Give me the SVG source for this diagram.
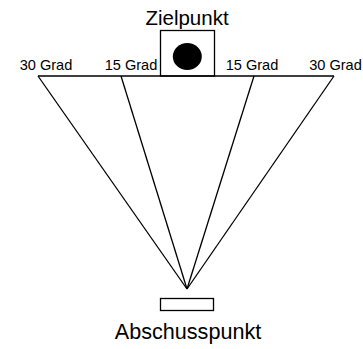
<svg xmlns="http://www.w3.org/2000/svg" width="363" height="349" viewBox="0 0 363 349">
<style>
.l{stroke:#000;stroke-width:1.3;fill:none}
.t{font-family:"Liberation Sans",Arial,sans-serif;fill:#000;text-anchor:middle}
.g{font-size:14.6px}
</style>
<rect width="363" height="349" fill="#fff"/>
<g id="connectors">
<line class="l" x1="38" y1="76" x2="334" y2="76"/>
<line class="l" x1="38" y1="76" x2="187" y2="289"/>
<line class="l" x1="121" y1="76" x2="187" y2="289"/>
<line class="l" x1="254" y1="76" x2="187" y2="289"/>
<line class="l" x1="334" y1="76" x2="187" y2="289"/>
</g>
<g id="zielpunkt">
<rect class="l" x="160.5" y="30.5" width="54" height="45.5" fill="#fff"/>
<ellipse cx="187.3" cy="56.5" rx="14.5" ry="13.5" fill="#000"/>
<text class="t" x="187" y="25" font-size="20.5">Zielpunkt</text>
</g>
<g id="abschusspunkt">
<rect class="l" x="160.5" y="298.5" width="53" height="12"/>
<text class="t" x="188" y="339" font-size="21.6">Abschusspunkt</text>
</g>
<g id="labels">
<text class="t g" x="46" y="70">30 Grad</text>
<text class="t g" x="131" y="70">15 Grad</text>
<text class="t g" x="252" y="70">15 Grad</text>
<text class="t g" x="335.5" y="70">30 Grad</text>
</g>
</svg>
